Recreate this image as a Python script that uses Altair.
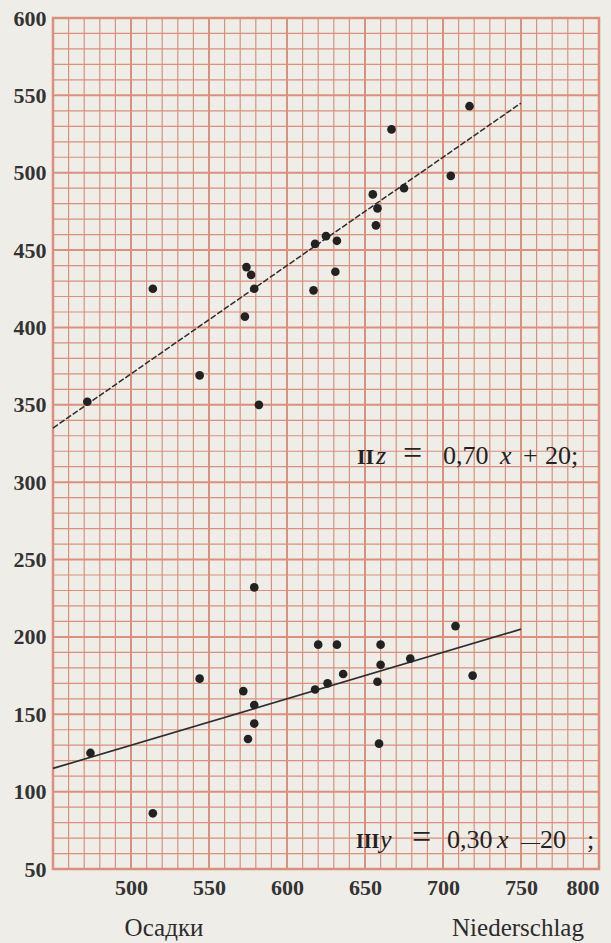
import altair as alt
import pandas as pd

# Station observations: precipitation (x) against the two dependent quantities
precip_z = [472, 514, 544, 573, 574, 577, 579, 582, 617, 618, 625, 632, 631, 655, 658, 657, 675, 705, 667, 717]
z_vals = [352, 425, 369, 407, 439, 434, 425, 350, 424, 454, 459, 456, 436, 486, 477, 466, 490, 498, 528, 543]

precip_y = [474, 514, 544, 572, 575, 579, 579, 579, 618, 620, 626, 632, 636, 658, 659, 660, 660, 679, 708, 719]
y_vals = [125, 86, 173, 165, 134, 156, 144, 232, 166, 195, 170, 195, 176, 171, 131, 182, 195, 186, 207, 175]

# Regression lines as printed: II  z = 0,70 x + 20 ;  III  y = 0,30 x - 20
line_x = [450, 750]
z_slope, z_icpt = 0.70, 20
y_slope, y_icpt = 0.30, -20

# Graph-paper rulings (every 10 units, heavier every 50)
x_ticks = list(range(450, 801, 10))
y_ticks = list(range(50, 601, 10))

GRID = "#d9917d"
INK = "#222222"
LABEL = "#333333"
SERIF = "Liberation Serif"
W, H = 546, 851

X = alt.X(
    "x:Q",
    scale=alt.Scale(domain=[450, 800], nice=False, zero=False),
    axis=alt.Axis(
        values=x_ticks, title=None, grid=False, ticks=False, domain=False,
        labelExpr="datum.value % 50 === 0 && datum.value > 450 ? datum.label : ''",
        labelFont=SERIF, labelFontSize=22, labelFontWeight="bold", labelColor=LABEL,
        labelPadding=8, labelFlush=True, labelOverlap=False,
    ),
)
Y = alt.Y(
    "v:Q",
    scale=alt.Scale(domain=[50, 600], nice=False, zero=False),
    axis=alt.Axis(
        values=y_ticks, title=None, grid=False, ticks=False, domain=False,
        labelExpr="datum.value % 50 === 0 ? datum.label : ''",
        labelFont=SERIF, labelFontSize=22, labelFontWeight="bold", labelColor=LABEL,
        labelPadding=7, labelOverlap=False,
    ),
)

# Graph paper: vertical and horizontal rules
vgrid = alt.Chart(pd.DataFrame({"x": x_ticks})).mark_rule(color=GRID).encode(
    x=X,
    strokeWidth=alt.condition("datum.x % 50 === 0", alt.value(2.0), alt.value(1.2)),
)
hgrid = alt.Chart(pd.DataFrame({"v": y_ticks})).mark_rule(color=GRID).encode(
    y=Y,
    strokeWidth=alt.condition("datum.v % 50 === 0", alt.value(2.0), alt.value(1.2)),
)

points = pd.DataFrame({
    "x": precip_z + precip_y,
    "v": z_vals + y_vals,
})
fit_z = pd.DataFrame({"x": line_x, "v": [z_slope * x + z_icpt for x in line_x]})
fit_y = pd.DataFrame({"x": line_x, "v": [y_slope * x + y_icpt for x in line_x]})

dots = alt.Chart(points).mark_circle(size=75, color=INK, opacity=1).encode(x=X, y=Y)
line_z = alt.Chart(fit_z).mark_line(color="#2e2e2e", strokeWidth=1.5, strokeDash=[6, 2]).encode(x=X, y=Y)
line_y = alt.Chart(fit_y).mark_line(color="#2e2e2e", strokeWidth=1.7).encode(x=X, y=Y)

one = pd.DataFrame({"k": [0]})


def piece(text, px, py, size=26, weight="normal", style="normal", color=INK):
    return alt.Chart(one).mark_text(
        text=text, font=SERIF, fontSize=size, fontWeight=weight, fontStyle=style,
        color=color, align="left", baseline="alphabetic",
    ).encode(x=alt.value(px), y=alt.value(py))


# Equation labels, set piece by piece for roman/italic type
eq_two = [
    ("II", 304, 22, "bold", "normal"),
    ("z", 323, 26, "normal", "italic"),
    ("=", 350, 34, "normal", "normal"),
    ("0,70", 390, 26, "normal", "normal"),
    ("x", 447, 26, "normal", "italic"),
    ("+", 470, 26, "normal", "normal"),
    ("20;", 492, 26, "normal", "normal"),
]
eq_three = [
    ("III", 303, 20, "bold", "normal"),
    ("y", 327, 26, "normal", "italic"),
    ("=", 359, 34, "normal", "normal"),
    ("0,30", 394, 26, "normal", "normal"),
    ("x", 444, 26, "normal", "italic"),
    ("\u2014", 468, 19, "normal", "normal"),
    ("20", 487, 26, "normal", "normal"),
    (";", 534, 26, "normal", "normal"),
]
labels = [piece(t, px, 446, s, w, st) for t, px, s, w, st in eq_two]
labels += [piece(t, px, 830, s, w, st) for t, px, s, w, st in eq_three]

titles = [
    alt.Chart(one).mark_text(text="Осадки", font=SERIF, fontSize=25, color="#2c2c2c",
                             align="center", baseline="middle").encode(x=alt.value(111), y=alt.value(910)),
    alt.Chart(one).mark_text(text="Niederschlag", font=SERIF, fontSize=25, color="#2c2c2c",
                             align="center", baseline="middle").encode(x=alt.value(465), y=alt.value(910)),
]

chart = alt.layer(vgrid, hgrid, line_z, line_y, dots, *labels, *titles).properties(
    width=W, height=H,
    autosize=alt.AutoSizeParams(type="none"),
    padding={"left": 53, "top": 18, "right": 12, "bottom": 74},
    background="#efede7",
).configure_view(stroke=GRID, strokeWidth=2.5)

chart.save("out.html", embed_options={"renderer": "svg", "actions": False})
